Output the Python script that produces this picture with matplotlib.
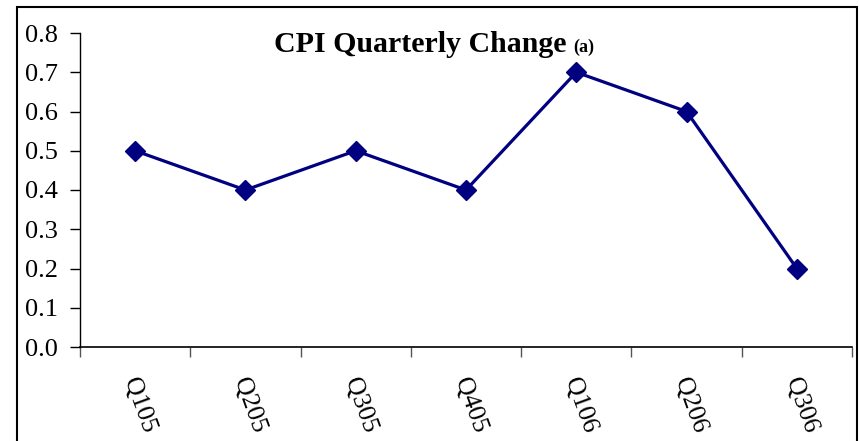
import matplotlib
matplotlib.use("Agg")
import matplotlib.pyplot as plt
import matplotlib.transforms as mtransforms
import numpy as np
from matplotlib.patches import Rectangle

quarters = ["Q105", "Q205", "Q305", "Q405", "Q106", "Q206", "Q306"]
cpi_change = [0.5, 0.4, 0.5, 0.4, 0.7, 0.6, 0.2]
y_ticks = [0.0, 0.1, 0.2, 0.3, 0.4, 0.5, 0.6, 0.7, 0.8]

plt.rcParams["font.family"] = ["Liberation Serif", "DejaVu Serif"]

W, H = 860, 441
fig = plt.figure(figsize=(W / 100, H / 100), dpi=100)
ax = fig.add_axes([80 / W, 1 - 347 / H, (852 - 80) / W, (347 - 33) / H])

# figure frame (bottom edge is cropped off in the reference)
fig.patches.append(Rectangle((17 / W, -0.05), (857 - 17) / W, 1 - 7 / H + 0.05,
                             transform=fig.transFigure, fill=False,
                             edgecolor="black", linewidth=1.5))

x = np.arange(len(quarters))
ax.plot(x, cpi_change, color="#000080", linewidth=2.3, marker="D",
        markersize=10.5, markerfacecolor="#000080", markeredgecolor="#000080")

ax.set_xlim(-0.5, len(quarters) - 0.5)
ax.set_ylim(0, 0.8)
ax.set_yticks(y_ticks)
ax.set_yticklabels([f"{v:.1f}" for v in y_ticks], fontsize=19)

# category boundaries as ticks, labels at centres
ax.set_xticks(np.arange(len(quarters) + 1) - 0.5)
ax.set_xticklabels([])
ax.set_xticks(x, minor=True)
ax.set_xticklabels(quarters, minor=True, rotation=-70, ha="center",
                   va="top", fontsize=18.5)
ax.tick_params(axis="x", which="minor", length=0, pad=20)
ax.tick_params(axis="x", which="major", length=7, width=1, color="#555555")
ax.tick_params(axis="y", length=7, width=1, pad=9)

# nudge rotated labels slightly right
shift = mtransforms.ScaledTranslation(4 / 100, 0, fig.dpi_scale_trans)
for lbl in ax.get_xticklabels(minor=True):
    lbl.set_transform(lbl.get_transform() + shift)

for side in ("top", "right"):
    ax.spines[side].set_visible(False)
ax.spines["left"].set_linewidth(1)
ax.spines["bottom"].set_linewidth(1.2)

title_y = 1 - 45 / H
fig.text(566 / W, title_y, "CPI Quarterly Change", ha="right", va="center",
         fontsize=21.5, fontweight="bold")
fig.text(573 / W, title_y - 2 / H, "(a)", ha="left", va="center",
         fontsize=13, fontweight="bold")

fig.savefig("out.png", dpi=100, facecolor="white")
